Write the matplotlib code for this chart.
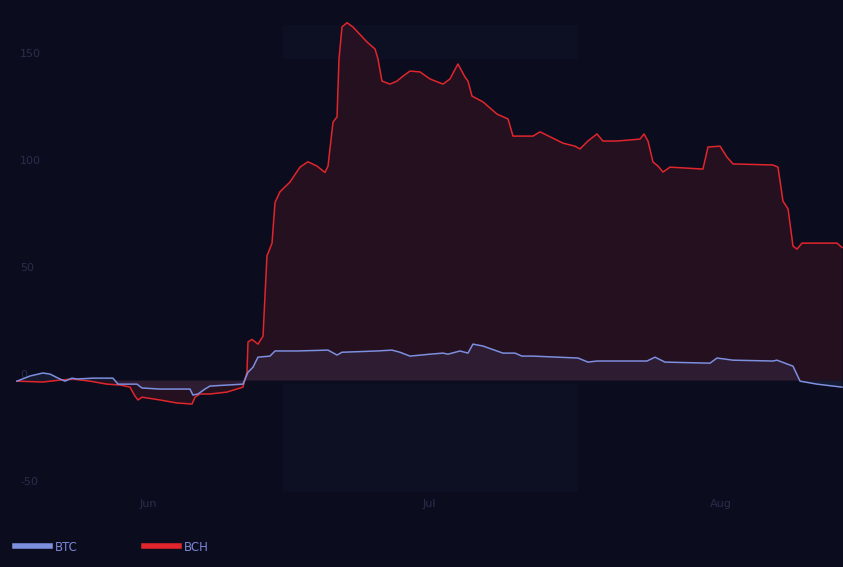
import numpy as np
import pandas as pd
import matplotlib
matplotlib.use("Agg")
import matplotlib.pyplot as plt
import matplotlib.dates as mdates
from matplotlib.lines import Line2D

plt.rcParams["axes.unicode_minus"] = False

# performance in % since start date, sampled at fractional day offsets
START = "2019-05-18"

btc_days = [0, 1.39, 2.77, 3.52, 4.58, 5.12, 5.86, 6.4, 8.1, 10.23, 10.77, 12.79,
            13.33, 15.25, 18.44, 18.76, 19.3, 20.04, 20.58, 24.09, 24.63, 25.16,
            25.69, 26.97, 27.51, 29.85, 33.16, 34.12, 34.65, 38.38, 39.98, 40.83,
            41.9, 44.03, 45.42, 45.95, 47.23, 48.08, 48.61, 49.68, 51.81, 53.09,
            53.84, 55.01, 59.81, 60.87, 61.83, 67.16, 68.02, 69.08, 73.88, 74.63,
            76.33, 80.6, 81.02, 82.73, 83.48, 85.29, 87.95]
btc_vals = [-0.5, 1.9, 3.3, 2.8, 0.5, -0.5, 0.9, 0.5, 0.9, 0.9, -1.9, -1.9,
            -3.7, -4.2, -4.2, -7.0, -6.5, -4.2, -2.8, -1.9, 3.7, 6.0,
            10.7, 11.2, 13.6, 13.6, 14.0, 11.7, 13.0, 13.6, 14.0, 13.0,
            11.2, 12.1, 12.6, 12.1, 13.6, 12.6, 16.8, 15.9, 12.6, 12.6,
            11.2, 11.2, 10.3, 8.4, 8.9, 8.9, 10.7, 8.4, 7.9, 10.3,
            9.3, 8.9, 9.3, 6.5, -0.5, -1.9, -3.3]

bch_days = [0, 2.77, 4.58, 5.97, 7.78, 9.59, 10.98, 12.05, 12.58, 12.9, 13.33,
            15.25, 17.06, 18.66, 18.98, 19.51, 20.58, 22.39, 24.09, 24.52, 24.63,
            25.05, 25.69, 26.23, 26.65, 27.19, 27.51, 28.04, 29.1, 30.17, 31.02,
            31.98, 32.84, 33.16, 33.69, 34.12, 34.33, 34.65, 35.18, 35.82, 37.31,
            38.17, 38.49, 38.91, 39.77, 40.51, 41.15, 41.9, 42.96, 44.03, 45.42,
            46.16, 47.01, 47.76, 48.08, 48.51, 49.68, 51.17, 52.35, 52.88, 55.01,
            55.76, 58.21, 59.49, 60.02, 60.87, 61.83, 62.47, 63.97, 66.42, 66.84,
            67.27, 67.8, 68.34, 68.87, 69.62, 73.13, 73.67, 74.95, 75.69, 76.33,
            80.6, 81.13, 81.66, 82.2, 82.73, 83.16, 83.69, 87.42, 87.95]
bch_vals = [-0.5, -0.9, 0.0, 0.5, -0.5, -1.9, -2.3, -3.3, -7.5, -9.3, -8.0,
            -9.3, -10.7, -11.2, -8.0, -6.5, -6.5, -5.6, -3.3, 3.7, 17.8,
            19.0, 16.8, 20.5, 58.0, 64.0, 83.0, 88.0, 92.5, 99.5, 102.0,
            100.0, 97.0, 100.0, 120.5, 123.0, 150.0, 165.0, 167.0, 165.0, 158.0,
            154.7, 150.0, 139.7, 138.3, 139.7, 142.0, 144.4, 144.0, 140.7, 138.3,
            140.7, 147.7, 141.6, 139.7, 132.7, 130.0, 124.3, 122.0, 114.0, 114.0,
            116.0, 110.7, 109.3, 108.0, 111.7, 115.0, 111.7, 111.7, 112.6, 115.0,
            111.7, 101.9, 100.0, 97.2, 99.5, 98.6, 108.9, 109.3, 104.2, 101.0,
            100.5, 99.5, 83.6, 80.0, 62.6, 61.2, 64.0, 64.0, 62.0]

y_ticks = [-50, 0, 50, 100, 150]

BG = "#0b0d1e"
BTC_COLOR = "#7d8fdf"
BCH_COLOR = "#e0262c"
TICK_COLOR = "#2a2d4a"

start = pd.Timestamp(START)
btc_t = start + pd.to_timedelta(btc_days, unit="D")
bch_t = start + pd.to_timedelta(bch_days, unit="D")

fig = plt.figure(figsize=(8.43, 5.67), dpi=100, facecolor=BG)
ax = fig.add_axes([0, 75 / 567, 1, 492 / 567], facecolor=BG)

# faint background cells
x0 = start - pd.Timedelta(days=1.81)
x1 = start + pd.Timedelta(days=88.06)
band_l = start + pd.Timedelta(days=28.4)
band_r = start + pd.Timedelta(days=59.8)
ax.axvspan(band_l, band_r, ymin=0.0, ymax=0.22, color="#0d0f22", lw=0, zorder=0)
ax.axvspan(band_l, band_r, ymin=0.88, ymax=0.95, color="#0d0f22", lw=0, zorder=0)

ax.fill_between(bch_t, bch_vals, 0, color=BCH_COLOR, alpha=0.12, lw=0, zorder=1)
ax.fill_between(btc_t, btc_vals, 0, color=BTC_COLOR, alpha=0.10, lw=0, zorder=2)
ax.plot(bch_t, bch_vals, color=BCH_COLOR, lw=1.1, zorder=3)
ax.plot(btc_t, btc_vals, color=BTC_COLOR, lw=1.1, zorder=4)

ax.set_xlim(x0, x1)
ax.set_ylim(-52.3, 177.6)

ax.set_yticks(y_ticks)
ax.tick_params(axis="y", length=0, pad=-14.5, labelsize=8, labelcolor=TICK_COLOR)
for lbl in ax.get_yticklabels():
    lbl.set_horizontalalignment("left")
    lbl.set_verticalalignment("bottom")

ax.xaxis.set_major_locator(mdates.MonthLocator(bymonth=[6, 7, 8]))
ax.xaxis.set_major_formatter(mdates.DateFormatter("%b"))
ax.tick_params(axis="x", length=0, pad=5, labelsize=8, labelcolor=TICK_COLOR)

for s in ax.spines.values():
    s.set_visible(False)

handles = [Line2D([], [], color=BTC_COLOR, lw=4), Line2D([], [], color=BCH_COLOR, lw=4)]
leg = fig.legend(handles, ["BTC", "BCH"], loc="lower left", bbox_to_anchor=(0.005, 0.005),
                 ncol=2, frameon=False, fontsize=8.5, handlelength=3.0, handletextpad=0.4,
                 columnspacing=5.6, labelcolor="#7d86d8")

fig.savefig("out.png", dpi=100, facecolor=BG)
